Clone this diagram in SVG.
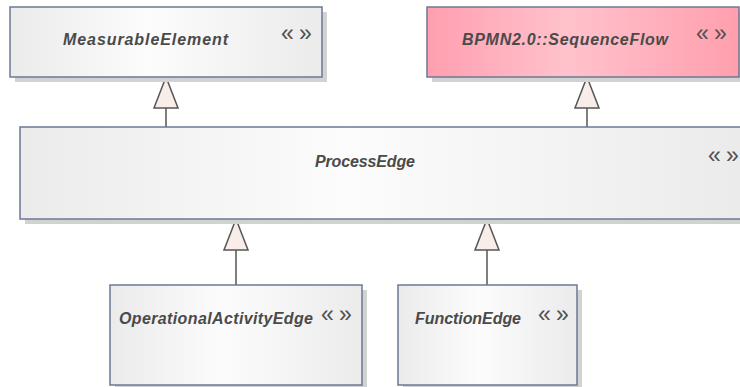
<svg xmlns="http://www.w3.org/2000/svg" width="740" height="387" viewBox="0 0 740 387">
<defs>
<linearGradient id="gGrey" x1="0" y1="0" x2="1" y2="0">
<stop offset="0" stop-color="#ebebeb"/>
<stop offset="0.45" stop-color="#fcfcfc"/>
<stop offset="1" stop-color="#ebebeb"/>
</linearGradient>
<linearGradient id="gPink" x1="0" y1="0" x2="1" y2="0">
<stop offset="0" stop-color="#ff9fb0"/>
<stop offset="0.45" stop-color="#ffc2cc"/>
<stop offset="1" stop-color="#ff9fae"/>
</linearGradient>
<marker id="gen" markerUnits="userSpaceOnUse" viewBox="-1 -13 33 26" markerWidth="33" markerHeight="26" refX="31" refY="0" orient="auto">
<path d="M0,-12 L31,0 L0,12 Z" fill="#f8ede9" stroke="#555555" stroke-width="1.5" stroke-linejoin="miter"/>
</marker>
</defs>
<style>
.shadow{fill:#d2d2d2}
.box{stroke:#6c7896;stroke-width:1.5}
.grey{fill:url(#gGrey)}
.pink{fill:url(#gPink)}
.name{font-family:"Liberation Sans",Arial,sans-serif;font-weight:bold;font-style:italic;font-size:16px;fill:#4a4a4a}
.st{font-family:"Liberation Sans",Arial,sans-serif;font-size:23px;fill:#505050}
.conn{stroke:#555555;stroke-width:1.5;fill:none;marker-end:url(#gen)}
</style>
<g id="connectors">
<path class="conn" d="M166,127 L166,77"/>
<path class="conn" d="M587,127 L587,77"/>
<path class="conn" d="M236,285 L236,219"/>
<path class="conn" d="M487,285 L487,219"/>
</g>
<g id="MeasurableElement">
<rect class="shadow" x="15" y="12" width="312" height="70"/>
<rect class="box grey" x="10" y="7" width="312" height="70"/>
<text class="name" x="63" y="45" textLength="165">MeasurableElement</text>
<text class="st" y="41"><tspan x="281">«</tspan><tspan x="299">»</tspan></text>
</g>
<g id="SequenceFlow">
<rect class="shadow" x="432" y="12" width="312" height="70"/>
<rect class="box pink" x="427" y="7" width="312" height="70"/>
<text class="name" x="462" y="45" textLength="206">BPMN2.0::SequenceFlow</text>
<text class="st" y="41"><tspan x="696">«</tspan><tspan x="714">»</tspan></text>
</g>
<g id="ProcessEdge">
<rect class="shadow" x="25" y="132" width="722" height="92"/>
<rect class="box grey" x="20" y="127" width="722" height="92"/>
<text class="name" x="315" y="167" textLength="100">ProcessEdge</text>
<text class="st" y="163"><tspan x="708">«</tspan><tspan x="726">»</tspan></text>
</g>
<g id="OperationalActivityEdge">
<rect class="shadow" x="115" y="290" width="252" height="100"/>
<rect class="box grey" x="110" y="285" width="252" height="100"/>
<text class="name" x="119" y="324" textLength="194">OperationalActivityEdge</text>
<text class="st" y="322"><tspan x="321">«</tspan><tspan x="339">»</tspan></text>
</g>
<g id="FunctionEdge">
<rect class="shadow" x="403" y="290" width="179" height="100"/>
<rect class="box grey" x="398" y="285" width="179" height="100"/>
<text class="name" x="415" y="324" textLength="106">FunctionEdge</text>
<text class="st" y="322"><tspan x="538">«</tspan><tspan x="556">»</tspan></text>
</g>
</svg>
